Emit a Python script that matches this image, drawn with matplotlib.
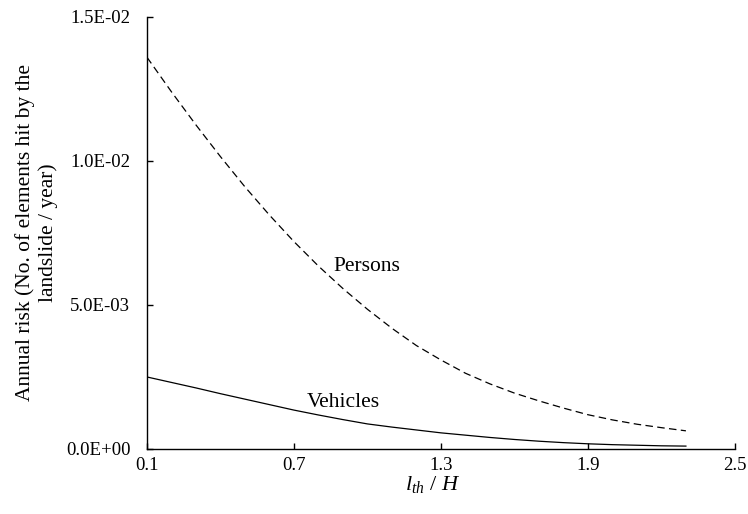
import matplotlib.pyplot as plt
import numpy as np

plt.rcParams['font.family'] = 'Liberation Serif'
plt.rcParams['mathtext.fontset'] = 'custom'
plt.rcParams['mathtext.rm'] = 'Liberation Serif'
plt.rcParams['mathtext.it'] = 'Liberation Serif:italic'

# l_th / H values and annual risk for each element type
ratio = [0.1, 0.2, 0.3, 0.4, 0.5, 0.6, 0.7, 0.8, 0.9, 1.0, 1.1, 1.2,
         1.3, 1.4, 1.5, 1.6, 1.7, 1.8, 1.9, 2.0, 2.1, 2.2, 2.3]
persons = [0.01360, 0.01240, 0.01125, 0.01015, 0.00910, 0.00812, 0.00720,
           0.00635, 0.00557, 0.00485, 0.00419, 0.00359, 0.00309, 0.00263,
           0.00226, 0.00194, 0.00167, 0.00142, 0.00119, 0.00101, 0.00086,
           0.00074, 0.00063]
vehicles = [0.00250, 0.00231, 0.00212, 0.00192, 0.00173, 0.00154, 0.00135,
            0.00118, 0.00102, 0.00087, 0.00076, 0.00066, 0.00056, 0.00048,
            0.00040, 0.00033, 0.00027, 0.00022, 0.00018, 0.00015, 0.00013,
            0.00011, 0.00010]

xticks = [0.1, 0.7, 1.3, 1.9, 2.5]
yticks = [0.0, 0.005, 0.010, 0.015]

fig = plt.figure(figsize=(7.48, 5.14), dpi=100)
ax = fig.add_axes([0.1965, 0.1265, 0.786, 0.8405])

ax.plot(ratio, persons, color='black', lw=0.9, linestyle=(0, (6, 3.5)))
ax.plot(ratio, vehicles, color='black', lw=0.9)

ax.text(0.86, 0.00632, 'Persons', fontsize=15.5, va='center', ha='left')
ax.text(0.753, 0.0016, 'Vehicles', fontsize=15.5, va='center', ha='left')

ax.set_xlim(0.1, 2.5)
ax.set_ylim(0, 0.015)
ax.set_xticks(xticks)
ax.set_xticklabels([f'{v:.1f}' for v in xticks])
ax.set_yticks(yticks)
ax.set_yticklabels(['%.1E' % v for v in yticks])

for s in ['top', 'right']:
    ax.spines[s].set_visible(False)
for s in ['left', 'bottom']:
    ax.spines[s].set_linewidth(1.0)

ax.tick_params(axis='both', direction='in', length=4, width=1.0, labelsize=13.5)
ax.tick_params(axis='y', pad=12)
ax.tick_params(axis='x', pad=6)

ax.set_xlabel(r'$l_{th}$ / $H$', fontsize=16)
ax.xaxis.set_label_coords(0.485, -0.058)
ax.xaxis.label.set_va('top')
ax.set_ylabel('Annual risk (No. of elements hit by the\nlandslide / year)',
              fontsize=15.5, linespacing=1.25)
ax.yaxis.set_label_coords(-0.151, 0.5)

fig.savefig('out.png', dpi=100)
